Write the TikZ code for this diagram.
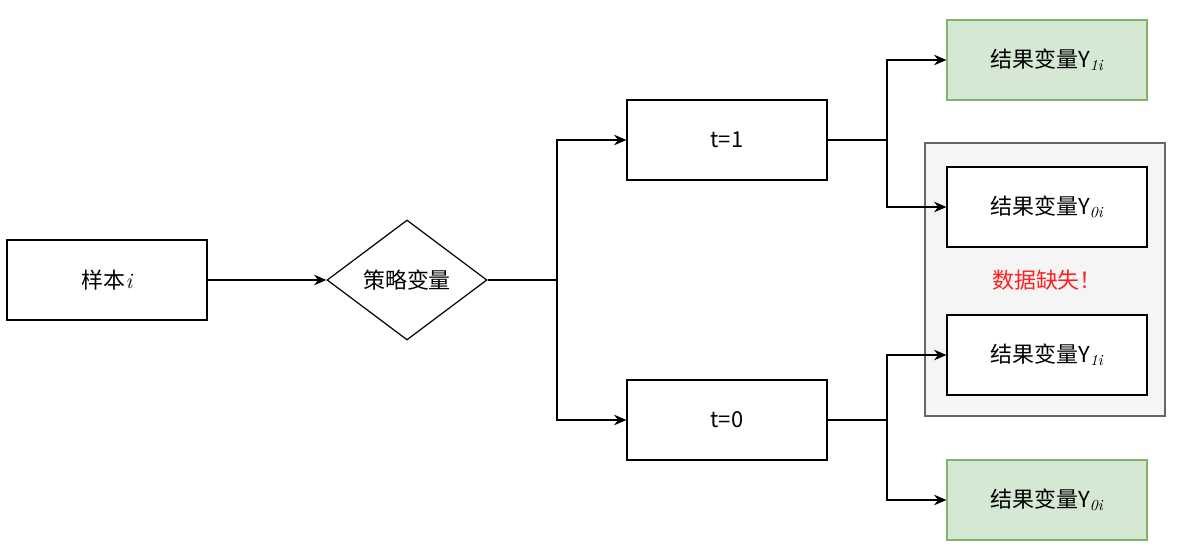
\documentclass[tikz,border=0pt]{standalone}
\usepackage{fontspec}
\setmainfont{Noto Sans CJK SC}
\newfontfamily\subfont{Latin Modern Roman}
\usetikzlibrary{shapes.geometric,arrows.meta}
\definecolor{greenfill}{HTML}{D5E8D4}
\definecolor{greenline}{HTML}{82B366}
\definecolor{grayfill}{HTML}{F5F5F5}
\definecolor{grayline}{HTML}{666666}
\definecolor{warnred}{HTML}{FF1F1F}
\newcommand{\ysub}[1]{Y\textsubscript{\subfont\itshape #1}}
\tikzset{
  every node/.style={font=\fontsize{12.5}{15}\selectfont},
  box/.style={draw, line width=0.7pt, minimum width=4cm, minimum height=1.6cm, inner sep=0pt},
  result/.style={box, fill=greenfill, draw=greenline},
  arr/.style={-{Stealth[length=7pt,width=6pt]}, line width=0.7pt}
}
\begin{document}
\begin{tikzpicture}[x=0.02cm,y=-0.02cm]
    \useasboundingbox (0,0) rectangle (1178,558);

    % Missing-data panel
    \draw[fill=grayfill, draw=grayline, line width=0.7pt] (925,143) rectangle (1165,416);

    % Nodes
    \node[box] (sample) at (107,280) {样本{\subfont\itshape i}};
    \node[diamond, draw, line width=0.7pt, minimum width=3.2cm, minimum height=2.4cm, aspect=1.33, inner sep=0pt] (policy) at (407,280) {策略变量};
    \node[box] (tone) at (727,140) {t=1};
    \node[box] (tzero) at (727,420) {t=0};
    \node[result] (yonetop) at (1047,60) {结果变量\ysub{1i}};
    \node[box, fill=white] (yzeromid) at (1047,207) {结果变量\ysub{0i}};
    \node[text=warnred] (missing) at (1047,280) {数据缺失！};
    \node[box, fill=white] (yonemid) at (1047,355) {结果变量\ysub{1i}};
    \node[result] (yzerobot) at (1047,500) {结果变量\ysub{0i}};

    % Connectors
    \draw[arr] (sample) -- (policy);
    \draw[arr] (policy.east) -- (557,280) |- (tone.west);
    \draw[arr] (policy.east) -- (557,280) |- (tzero.west);
    \draw[arr] (tone.east) -- (887,140) |- (yonetop.west);
    \draw[arr] (tone.east) -- (887,140) |- (yzeromid.west);
    \draw[arr] (tzero.east) -- (887,420) |- (yonemid.west);
    \draw[arr] (tzero.east) -- (887,420) |- (yzerobot.west);
\end{tikzpicture}
\end{document}
